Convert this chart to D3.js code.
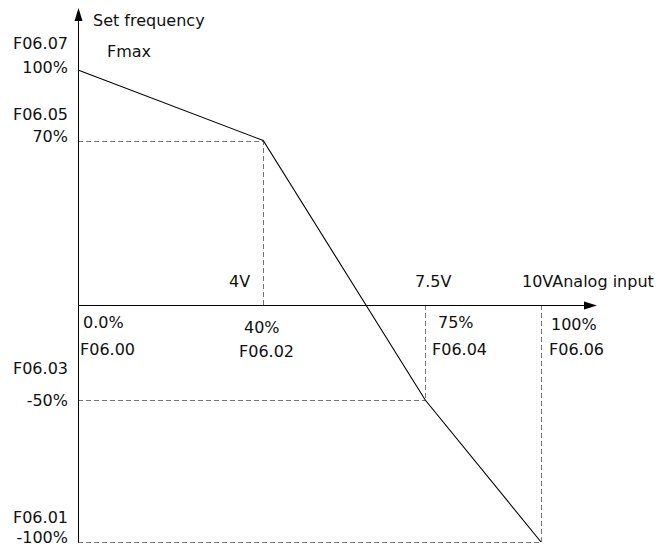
<!DOCTYPE html>
<html>
<head>
<meta charset="utf-8">
<script src="https://cdn.jsdelivr.net/npm/d3@7/dist/d3.min.js"></script>
<style>
  html, body { margin: 0; padding: 0; background: #fff; }
  svg text { font-family: "DejaVu Sans", sans-serif; font-size: 16px; fill: #111; }
</style>
</head>
<body>
<svg id="chart" width="669" height="546"></svg>
<script>
// Curve break points: analog input (%) vs set frequency (%)
const inputPct = [0, 40, 75, 100];
const freqPct = [100, 70, -50, -100];
const inputVolts = ["", "4V", "7.5V", "10V"];
const inputParams = ["F06.00", "F06.02", "F06.04", "F06.06"];
const inputPctLabels = ["0.0%", "40%", "75%", "100%"];
const freqParams = ["F06.07", "F06.05", "F06.03", "F06.01"];
const freqPctLabels = ["100%", "70%", "-50%", "-100%"];

const svg = d3.select("#chart");
const x = d3.scaleLinear().domain([0, 100]).range([78, 541]);
const y = d3.scaleLinear().domain([-100, -50, 0, 100]).range([542, 400, 305, 70]);

const x0 = x(0), y0 = y(0);

// dashed guides
const dash = svg.append("g").attr("stroke", "#777").attr("stroke-width", 1)
  .attr("stroke-dasharray", "5,3").attr("fill", "none");
for (let i = 1; i < inputPct.length; i++) {
  const px = Math.round(x(inputPct[i])) + 0.5, py = Math.round(y(freqPct[i])) + 0.5;
  dash.append("line").attr("x1", x0).attr("y1", py).attr("x2", px).attr("y2", py);
  dash.append("line").attr("x1", px).attr("y1", y0).attr("x2", px).attr("y2", py);
}

// axes
const axes = svg.append("g").attr("stroke", "#000").attr("stroke-width", 1);
axes.append("line").attr("x1", x0 + 0.5).attr("y1", 18).attr("x2", x0 + 0.5).attr("y2", y(-100) + 0.5);
axes.append("line").attr("x1", x0).attr("y1", y0 + 0.5).attr("x2", 587).attr("y2", y0 + 0.5);
svg.append("path").attr("d", `M${x0 + 0.5},8 L${x0 - 3.5},21 L${x0 + 4.5},21 Z`).attr("fill", "#000");
svg.append("path").attr("d", `M597,${y0 + 0.5} L584,${y0 - 3.5} L584,${y0 + 4.5} Z`).attr("fill", "#000");

// curve
const line = d3.line().x(d => x(d[0])).y(d => y(d[1]));
svg.append("path").datum(inputPct.map((v, i) => [v, freqPct[i]]))
  .attr("d", line).attr("fill", "none").attr("stroke", "#000").attr("stroke-width", 1.1);

// text
const t = (s, px, py, anchor) => svg.append("text").attr("x", px).attr("y", py)
  .attr("text-anchor", anchor || "start").text(s);

t("Set frequency", 93, 26);
t("Fmax", 107, 57);

// y labels
const yParamBase = [49, 120, 374, 523];
const yPctBase = [73, 142, 406, 543];
freqParams.forEach((s, i) => t(s, 68, yParamBase[i], "end"));
freqPctLabels.forEach((s, i) => t(s, 68, yPctBase[i], "end"));

// x labels
const pctX = [83, 244, 438, 551];
const pctBase = [328, 333, 328, 330];
inputPctLabels.forEach((s, i) => t(s, pctX[i], pctBase[i]));
const paramX = [80, 239, 432, 549];
const paramBase = [355, 357, 355, 355];
inputParams.forEach((s, i) => t(s, paramX[i], paramBase[i]));
t(inputVolts[1], 229, 287);
t(inputVolts[2], 415, 287);
t(inputVolts[3] + "Analog input", 522, 287);
</script>
</body>
</html>
